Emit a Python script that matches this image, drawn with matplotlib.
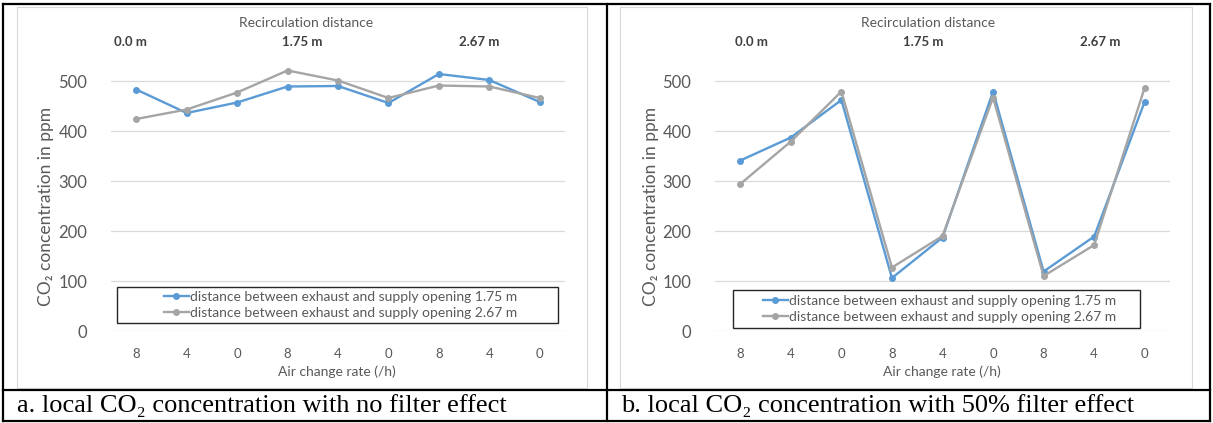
import matplotlib
matplotlib.use("Agg")
import matplotlib.pyplot as plt
from matplotlib.lines import Line2D
from matplotlib.patches import Rectangle

# ---- data ----
x_labels = ["8", "4", "0", "8", "4", "0", "8", "4", "0"]
group_labels = ["0.0 m", "1.75 m", "2.67 m"]
series_names = ["distance between exhaust and supply opening 1.75 m",
                "distance between exhaust and supply opening 2.67 m"]
a_175 = [483, 436, 457, 489, 490, 456, 514, 502, 458]
a_267 = [424, 443, 477, 521, 501, 466, 491, 489, 466]
b_175 = [341, 387, 462, 106, 187, 479, 119, 189, 459]
b_267 = [294, 379, 479, 127, 190, 467, 110, 172, 487]
captions = ["a. local CO₂ concentration with no filter effect",
            "b. local CO₂ concentration with 50% filter effect"]
yticks = [0, 100, 200, 300, 400, 500]

W, H = 1213, 423
fig = plt.figure(figsize=(W / 100, H / 100), dpi=100)

SANS = ["Lato", "DejaVu Sans"]
SERIF = ["Liberation Serif", "DejaVu Serif"]
TXT = "#595959"
BLUE = "#5B9BD5"
GRAY = "#A5A5A5"


def fx(px):
    return px / W


def fy(py):
    return 1 - py / H


panels = [
    dict(left=111, right=565, series=(a_175, a_267), frame=(17, 587),
         title_x=306, groups_x=(130, 302, 479), ylab_x=46, xlab_x=337,
         legend=(117, 287, 558, 323), cap_x=17),
    dict(left=715, right=1170, series=(b_175, b_267), frame=(620, 1192),
         title_x=928, groups_x=(751, 923, 1100), ylab_x=651, xlab_x=942,
         legend=(733, 290, 1140, 328), cap_x=621),
]

y0_px, y500_px = 331, 81
ppu = (y0_px - y500_px) / 500.0
ytop = 560
top_px = y0_px - ytop * ppu

for i, p in enumerate(panels):
    # chart area frame
    fl, fr = p["frame"]
    fig.patches.append(Rectangle((fx(fl), fy(388)), fx(fr - fl), (388 - 7) / H,
                                 transform=fig.transFigure, fill=False,
                                 edgecolor="#D9D9D9", linewidth=0.8, zorder=-1))
    ax = fig.add_axes([fx(p["left"]), fy(y0_px), fx(p["right"] - p["left"]),
                       (y0_px - top_px) / H])
    ax.set_xlim(-0.5, 8.5)
    ax.set_ylim(0, ytop)
    ax.set_yticks(yticks)
    ax.set_yticklabels([str(v) for v in yticks], family=SANS, fontsize=12, color=TXT)
    ax.set_xticks(range(len(x_labels)))
    ax.set_xticklabels(x_labels, family=SANS, fontsize=9.5, color=TXT)
    ax.tick_params(axis="y", length=0, pad=17)
    ax.tick_params(axis="x", length=0, pad=12)
    for s in ax.spines.values():
        s.set_visible(False)
    ax.grid(axis="y", color="#D9D9D9", linewidth=0.9)
    ax.set_axisbelow(True)
    ax.patch.set_alpha(0)
    xs = list(range(len(x_labels)))
    s1, s2 = p["series"]
    h1, = ax.plot(xs, s1, color=BLUE, lw=1.7, marker="o", ms=4, clip_on=False, zorder=3)
    h2, = ax.plot(xs, s2, color=GRAY, lw=1.7, marker="o", ms=4, clip_on=False, zorder=4)

    # texts
    fig.text(fx(p["title_x"]), fy(23), "Recirculation distance", ha="center",
             va="center", family=SANS, fontsize=10, color=TXT)
    for gx, gl in zip(p["groups_x"], group_labels):
        fig.text(fx(gx), fy(42), gl, ha="center", va="center", family=SANS,
                 fontsize=9.5, fontweight="bold", color="#404040")
    fig.text(fx(p["ylab_x"]), fy(206), "CO₂ concentration in ppm", rotation=90,
             ha="center", va="center", family=SANS, fontsize=12.5, color=TXT)
    fig.text(fx(p["xlab_x"]), fy(372), "Air change rate (/h)", ha="center",
             va="center", family=SANS, fontsize=10, color=TXT)

    # legend box
    lx0, ly0, lx1, ly1 = p["legend"]
    fig.patches.append(Rectangle((fx(lx0), fy(ly1)), fx(lx1 - lx0), (ly1 - ly0) / H,
                                 transform=fig.transFigure, facecolor="white",
                                 edgecolor="#262626", linewidth=1.0, zorder=5))
    leg = fig.legend([h1, h2], series_names, loc="center",
                     bbox_to_anchor=(fx((lx0 + lx1) / 2 + 3), fy((ly0 + ly1) / 2)),
                     bbox_transform=fig.transFigure, frameon=False,
                     prop=dict(family=SANS, size=10), labelcolor=TXT,
                     handlelength=1.8, handletextpad=0.1, labelspacing=0.3,
                     borderpad=0.2)
    leg.set_zorder(6)

    # caption
    fig.text(fx(p["cap_x"]), fy(406), captions[i], ha="left",
             va="center", family=SERIF, fontsize=19, color="black")

# table borders
lw = 1.6
for (x0, y0, x1, y1) in [(3, 4, 1210, 4), (3, 421, 1210, 421), (3, 4, 3, 421),
                         (1210, 4, 1210, 421), (607, 4, 607, 421),
                         (3, 390, 1210, 390)]:
    fig.lines.append(Line2D([fx(x0), fx(x1)], [fy(y0), fy(y1)],
                            transform=fig.transFigure, color="black", lw=lw,
                            zorder=7))

fig.savefig("out.png", dpi=100)
